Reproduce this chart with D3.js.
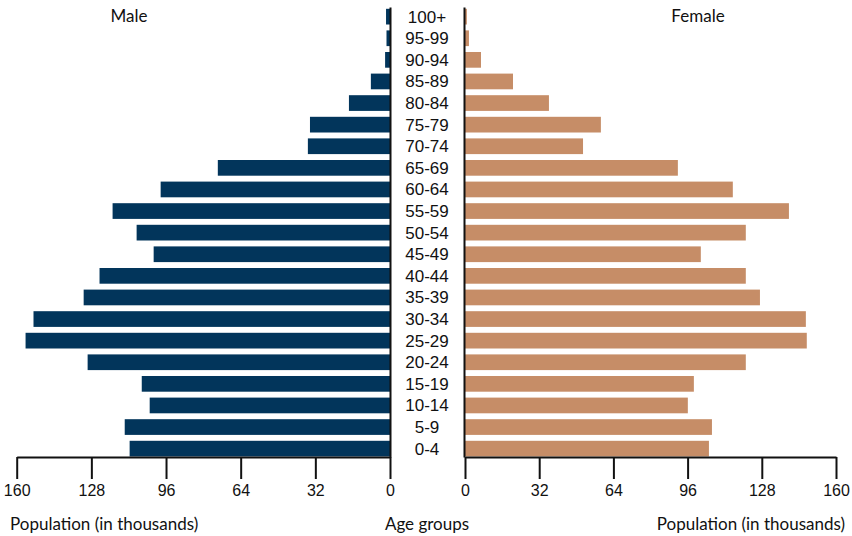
<!DOCTYPE html>
<html>
<head>
<meta charset="utf-8">
<script src="https://cdn.jsdelivr.net/npm/d3@7"></script>
<style>
  html, body { margin: 0; padding: 0; background: #ffffff; }
  svg { display: block; }
  text { font-family: Lato, "Liberation Sans", sans-serif; fill: #111111; }
</style>
</head>
<body>
<svg id="chart" width="852" height="536"></svg>
<script>
// Age groups, oldest first (top of the pyramid)
const ageGroups = ["100+", "95-99", "90-94", "85-89", "80-84", "75-79", "70-74",
  "65-69", "60-64", "55-59", "50-54", "45-49", "40-44", "35-39", "30-34",
  "25-29", "20-24", "15-19", "10-14", "5-9", "0-4"];
// Population in thousands
const maleValues = [1.7, 1.5, 2.1, 8.2, 17.6, 34.3, 35.2,
  73.8, 98.3, 118.9, 108.6, 101.3, 124.5, 131.3, 152.8,
  156.2, 129.6, 106.4, 103.0, 113.7, 111.6];
const femaleValues = [0.8, 1.7, 6.9, 20.7, 36.2, 58.6, 50.9,
  91.8, 115.5, 139.7, 121.1, 101.7, 121.1, 127.2, 147.0,
  147.4, 121.1, 98.7, 96.1, 106.5, 105.2];
const tickValues = [0, 32, 64, 96, 128, 160];
const sideLabels = ["Male", "Female"];
const axisTitles = ["Population (in thousands)", "Age groups", "Population (in thousands)"];

const maleColor = "#02355b";
const femaleColor = "#c68d67";
const numFont = "'Liberation Sans', Arial, sans-serif";

const svg = d3.select("#chart");

const xLeft = d3.scaleLinear().domain([0, 160]).range([390, 16.7]);
const xRight = d3.scaleLinear().domain([0, 160]).range([465, 836]);
const y = d3.scaleBand().domain(ageGroups).range([8.8, 456.5]).paddingInner(0.273).paddingOuter(0);

const axisY = 457;

const rows = ageGroups.map((g, i) => ({ g, m: maleValues[i], f: femaleValues[i] }));

// Bars
svg.append("g").selectAll("rect").data(rows).join("rect")
  .attr("x", d => xLeft(d.m))
  .attr("y", d => y(d.g))
  .attr("width", d => xLeft(0) - xLeft(d.m))
  .attr("height", y.bandwidth())
  .attr("fill", maleColor);

svg.append("g").selectAll("rect").data(rows).join("rect")
  .attr("x", xRight(0))
  .attr("y", d => y(d.g))
  .attr("width", d => xRight(d.f) - xRight(0))
  .attr("height", y.bandwidth())
  .attr("fill", femaleColor);

// X axes
function styleAxis(g) {
  g.select(".domain").attr("stroke", "#111").attr("stroke-width", 2);
  g.selectAll(".tick line").attr("stroke", "#111").attr("stroke-width", 2);
  g.selectAll(".tick text").attr("fill", "#111")
    .style("font-family", numFont)
    .style("font-size", "16px");
}

svg.append("g")
  .attr("transform", `translate(0,${axisY})`)
  .call(d3.axisBottom(xLeft).tickValues(tickValues).tickSize(22).tickSizeOuter(0).tickPadding(6))
  .call(styleAxis);

svg.append("g")
  .attr("transform", `translate(0,${axisY})`)
  .call(d3.axisBottom(xRight).tickValues(tickValues).tickSize(22).tickSizeOuter(0).tickPadding(6))
  .call(styleAxis);

// Vertical baseline axes
const yTop = 7;
svg.append("g")
  .attr("transform", `translate(${xLeft(0)},0)`)
  .call(d3.axisRight(d3.scaleLinear().domain([0, 1]).range([axisY, yTop])).tickValues([]).tickSizeOuter(0))
  .call(g => g.select(".domain").attr("stroke", "#111").attr("stroke-width", 2));
svg.append("g")
  .attr("transform", `translate(${xRight(0) - 1},0)`)
  .call(d3.axisLeft(d3.scaleLinear().domain([0, 1]).range([axisY, yTop])).tickValues([]).tickSizeOuter(0))
  .call(g => g.select(".domain").attr("stroke", "#111").attr("stroke-width", 2));

// Age labels
svg.append("g").selectAll("text").data(ageGroups).join("text")
  .attr("x", 427)
  .attr("y", d => y(d) + y.bandwidth() / 2)
  .attr("dy", "0.35em")
  .attr("text-anchor", "middle")
  .style("font-family", numFont)
  .style("font-size", "17px")
  .text(d => d);

// Side labels
svg.append("text").attr("x", 129).attr("y", 16).attr("dy", "0.35em")
  .attr("text-anchor", "middle").style("font-size", "17px").text(sideLabels[0]);
svg.append("text").attr("x", 698).attr("y", 16).attr("dy", "0.35em")
  .attr("text-anchor", "middle").style("font-size", "17px").text(sideLabels[1]);

// Axis titles
svg.append("text").attr("x", 10).attr("y", 524).attr("dy", "0.35em")
  .attr("text-anchor", "start").style("font-size", "17px").text(axisTitles[0]);
svg.append("text").attr("x", 427).attr("y", 524).attr("dy", "0.35em")
  .attr("text-anchor", "middle").style("font-size", "17px").text(axisTitles[1]);
svg.append("text").attr("x", 845).attr("y", 524).attr("dy", "0.35em")
  .attr("text-anchor", "end").style("font-size", "17px").text(axisTitles[2]);
</script>
</body>
</html>
